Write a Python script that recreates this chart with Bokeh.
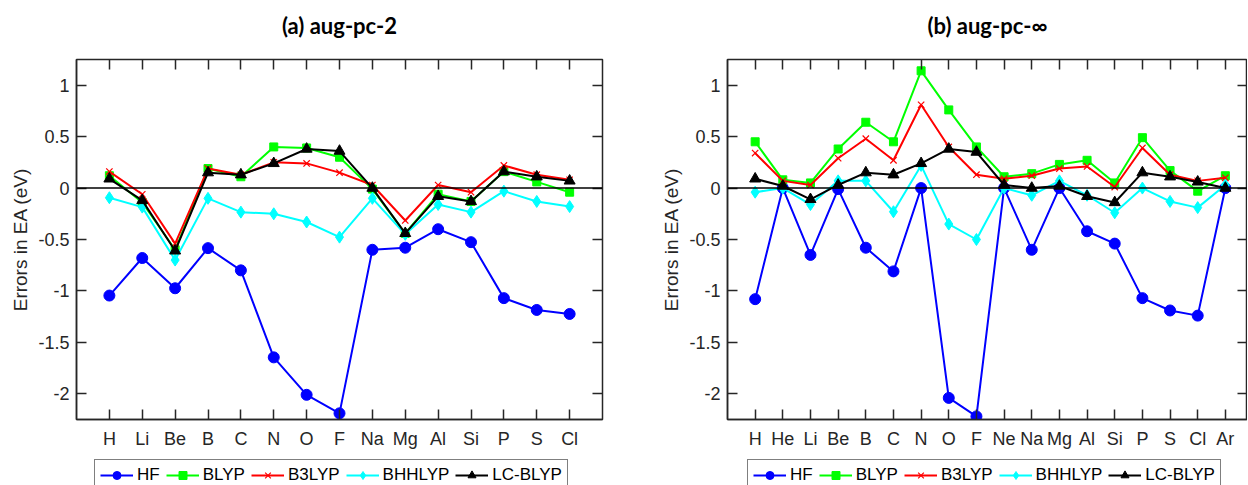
from bokeh.plotting import figure
from bokeh.models import (FixedTicker, LinearAxis, Range1d, Legend, LegendItem, Span)
from bokeh.layouts import row, column
from bokeh.embed import file_html
from bokeh.resources import INLINE

# ---------------- data ----------------
elements_a = ["H", "Li", "Be", "B", "C", "N", "O", "F", "Na", "Mg", "Al", "Si", "P", "S", "Cl"]
hf_a = [-1.045, -0.68, -0.974, -0.584, -0.80, -1.646, -2.01, -2.19, -0.60, -0.58, -0.40, -0.526, -1.07, -1.185, -1.224]
blyp_a = [0.12, -0.14, -0.60, 0.19, 0.11, 0.40, 0.39, 0.30, -0.01, -0.44, -0.06, -0.13, 0.16, 0.06, -0.04]
b3lyp_a = [0.16, -0.06, -0.54, 0.19, 0.13, 0.25, 0.24, 0.15, 0.03, -0.315, 0.03, -0.04, 0.22, 0.13, 0.08]
bhhlyp_a = [-0.094, -0.185, -0.70, -0.10, -0.234, -0.25, -0.33, -0.477, -0.10, -0.45, -0.16, -0.234, -0.03, -0.13, -0.18]
lcblyp_a = [0.09, -0.12, -0.61, 0.15, 0.13, 0.24, 0.38, 0.36, 0.0, -0.44, -0.08, -0.13, 0.16, 0.11, 0.07]

elements_b = ["H", "He", "Li", "Be", "B", "C", "N", "O", "F", "Ne", "Na", "Mg", "Al", "Si", "P", "S", "Cl", "Ar"]
hf_b = [-1.08, 0.0, -0.65, -0.01, -0.58, -0.81, 0.0, -2.04, -2.22, 0.0, -0.60, 0.0, -0.42, -0.54, -1.07, -1.19, -1.24, 0.0]
blyp_b = [0.45, 0.08, 0.05, 0.38, 0.64, 0.45, 1.14, 0.76, 0.40, 0.11, 0.14, 0.23, 0.27, 0.05, 0.49, 0.17, -0.03, 0.12]
b3lyp_b = [0.34, 0.07, 0.03, 0.29, 0.48, 0.27, 0.81, 0.40, 0.13, 0.09, 0.12, 0.19, 0.21, 0.01, 0.39, 0.13, 0.07, 0.10]
bhhlyp_b = [-0.04, 0.0, -0.16, 0.07, 0.07, -0.23, 0.22, -0.35, -0.50, 0.0, -0.07, 0.07, -0.07, -0.24, 0.0, -0.13, -0.19, 0.03]
lcblyp_b = [0.09, 0.02, -0.11, 0.03, 0.15, 0.13, 0.24, 0.38, 0.35, 0.03, 0.0, 0.02, -0.08, -0.14, 0.15, 0.11, 0.06, 0.0]

y_ticks = [-2, -1.5, -1, -0.5, 0, 0.5, 1]
y_tick_labels = ["-2", "-1.5", "-1", "-0.5", "0", "0.5", "1"]

series_names = ["HF", "BLYP", "B3LYP", "BHHLYP", "LC-BLYP"]
colors = ["#0000FF", "#00FF00", "#FF0000", "#00FFFF", "#000000"]
markers = ["circle", "square", "x", "diamond", "triangle"]
msizes = [11, 8, 9, 12, 11]
legend_msizes = [10, 7, 8, 11, 10]

FONT = "Liberation Sans"
AX = "#262626"


def add_series(p, xs, series, sizes):
    rends = []
    for ys, c, m, s in zip(series, colors, markers, sizes):
        r1 = p.line(xs, ys, line_color=c, line_width=2)
        if m == "x":
            r2 = p.scatter(xs, ys, marker=m, size=s, line_color=c, line_width=1.2)
        else:
            r2 = p.scatter(xs, ys, marker=m, size=s, fill_color=c, line_color=c)
        rends.append([r1, r2])
    return rends


def make_panel(title, elements, series, x_end, frame_w, left_b, right_b):
    n = len(elements)
    xs = list(range(1, n + 1))
    p = figure(frame_width=frame_w, frame_height=360,
               min_border_left=left_b, min_border_right=right_b,
               min_border_top=59, min_border_bottom=40,
               x_range=Range1d(0, x_end), y_range=Range1d(-2.25, 1.25),
               output_backend="svg", toolbar_location=None,
               x_axis_location="below", y_axis_location="left")
    p.grid.visible = False
    p.outline_line_color = AX
    p.outline_line_width = 1.5
    p.background_fill_color = "white"
    p.border_fill_color = "white"

    xt = FixedTicker(ticks=xs)
    yt = FixedTicker(ticks=y_ticks)
    xover = {i + 1: e for i, e in enumerate(elements)}
    yover = {t: l for t, l in zip(y_ticks, y_tick_labels)}

    for ax in [p.xaxis[0], p.yaxis[0]]:
        ax.axis_line_color = AX
        ax.axis_line_width = 1.5
        ax.major_tick_line_color = AX
        ax.major_tick_line_width = 1.5
        ax.major_tick_in = 10
        ax.major_tick_out = 0
        ax.minor_tick_line_color = None
        ax.major_label_text_font = FONT
        ax.major_label_text_font_size = "18px"
        ax.major_label_text_color = AX
    p.xaxis[0].ticker = xt
    p.xaxis[0].major_label_overrides = xover
    p.xaxis[0].major_label_standoff = 9
    p.yaxis[0].ticker = yt
    p.yaxis[0].major_label_overrides = yover
    p.yaxis[0].major_label_standoff = 7
    p.yaxis[0].axis_label = "Errors in EA (eV)"
    p.yaxis[0].axis_label_text_font = FONT
    p.yaxis[0].axis_label_text_font_size = "19px"
    p.yaxis[0].axis_label_text_font_style = "normal"
    p.yaxis[0].axis_label_text_color = AX
    p.yaxis[0].axis_label_standoff = 4

    # top axis: tick marks only, panel title as its label
    top = LinearAxis(ticker=xt, major_label_overrides={x: "" for x in xs},
                     major_label_text_font_size="1px",
                     axis_line_color=None, major_tick_line_color=AX,
                     major_tick_line_width=1.5, major_tick_in=10, major_tick_out=0,
                     minor_tick_line_color=None, major_label_standoff=0,
                     axis_label=title, axis_label_text_font="Lato",
                     axis_label_text_font_size="22px", axis_label_text_font_style="bold",
                     axis_label_text_color="#000000", axis_label_standoff=21)
    right = LinearAxis(ticker=yt, major_label_overrides={t: "" for t in y_ticks},
                       major_label_text_font_size="1px",
                       axis_line_color=None, major_tick_line_color=AX,
                       major_tick_line_width=1.5, major_tick_in=10, major_tick_out=0,
                       minor_tick_line_color=None, major_label_standoff=0)
    p.add_layout(top, "above")
    p.add_layout(right, "right")

    p.add_layout(Span(location=0, dimension="width", line_color="#000000", line_width=1.5))

    add_series(p, xs, series, msizes)
    return p


def make_legend(width, elements, series, legend_x):
    # legend strip below each panel; its series lie outside its (empty) view
    xs = list(range(1, len(elements) + 1))
    lf = figure(width=width, height=26, min_border=0,
                x_range=Range1d(-3, -2), y_range=Range1d(-3, -2),
                x_axis_location=None, y_axis_location=None,
                output_backend="svg", toolbar_location=None)
    lf.grid.visible = False
    lf.outline_line_color = None
    lf.border_fill_color = "white"
    lf.background_fill_color = "white"
    rends = add_series(lf, xs, series, legend_msizes)
    items = [LegendItem(label=nm, renderers=r) for nm, r in zip(series_names, rends)]
    leg = Legend(items=items, orientation="horizontal", location=(legend_x, -6),
                 label_text_font=FONT, label_text_font_size="17px",
                 label_text_color="#000000", glyph_width=33, glyph_height=20,
                 label_height=20, label_standoff=4, spacing=6, padding=5, margin=0,
                 border_line_color="#000000", border_line_width=1.2,
                 background_fill_alpha=1.0)
    lf.add_layout(leg, "center")
    return lf


series_a = [hf_a, blyp_a, b3lyp_a, bhhlyp_a, lcblyp_a]
series_b = [hf_b, blyp_b, b3lyp_b, bhhlyp_b, lcblyp_b]

p1 = make_panel("(a) aug-pc-2", elements_a, series_a, 16, 526, 76, 38)
p2 = make_panel("(b) aug-pc-\u221e", elements_b, series_b, 18.8, 520, 87, 0)
l1 = make_legend(640, elements_a, series_a, 18)
l2 = make_legend(607, elements_b, series_b, 20)

layout = row(column(p1, l1, spacing=0), column(p2, l2, spacing=0), spacing=0)
open("out.html", "w").write(file_html(layout, INLINE))
